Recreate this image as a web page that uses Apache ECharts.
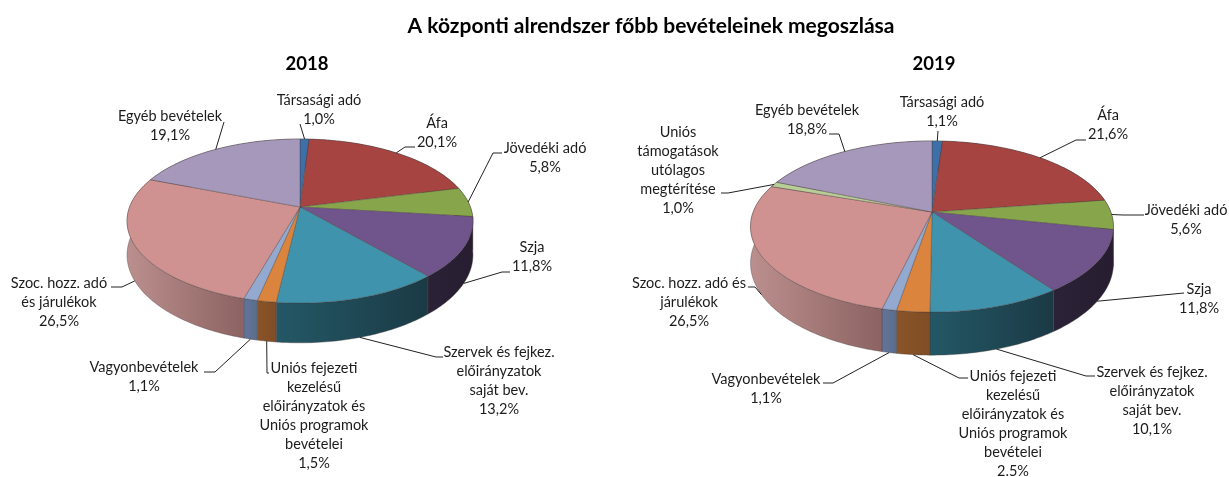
<!DOCTYPE html>
<html>
<head>
<meta charset="utf-8">
<style>
html, body { margin: 0; padding: 0; background: #fff; }
#main { width: 1229px; height: 477px; }
</style>
<script src="https://cdn.jsdelivr.net/npm/echarts@6/dist/echarts.min.js"></script>
</head>
<body>
<div id="main"></div>
<script>
// chart values
var names2018 = ['Társasági adó', 'Áfa', 'Jövedéki adó', 'Szja', 'Szervek és fejkez.\nelőirányzatok\nsaját bev.', 'Uniós fejezeti\nkezelésű\nelőirányzatok és\nUniós programok\nbevételei', 'Vagyonbevételek', 'Szoc. hozz. adó\nés járulékok', 'Egyéb bevételek'];
var values2018 = [1.0, 20.1, 5.8, 11.8, 13.2, 1.5, 1.1, 26.5, 19.1];
var percents2018 = ['1,0%', '20,1%', '5,8%', '11,8%', '13,2%', '1,5%', '1,1%', '26,5%', '19,1%'];
var names2019 = ['Társasági adó', 'Áfa', 'Jövedéki adó', 'Szja', 'Szervek és fejkez.\nelőirányzatok\nsaját bev.', 'Uniós fejezeti\nkezelésű\nelőirányzatok és\nUniós programok\nbevételei', 'Vagyonbevételek', 'Szoc. hozz. adó és\njárulékok', 'Uniós\ntámogatások\nutólagos\nmegtérítése', 'Egyéb bevételek'];
var values2019 = [1.1, 21.6, 5.6, 11.8, 10.1, 2.5, 1.1, 26.5, 1.0, 18.8];
var percents2019 = ['1,1%', '21,6%', '5,6%', '11,8%', '10,1%', '2.5%', '1,1%', '26,5%', '1,0%', '18,8%'];

// slice colours: top face, wall left, wall right
var topColors2018 = ['#3d6fa8', '#a64442', '#87a54b', '#70558c', '#3f93ad', '#db843d', '#93a9cf', '#d09290', '#a598ba'];
var wallLeft2018 = ['#2c5078', '#77302f', '#617636', '#2c2238', '#245866', '#8a5428', '#62759a', '#bb8f8d', '#766c85'];
var wallRight2018 = ['#2c5078', '#77302f', '#617636', '#261d30', '#1a3a45', '#7f4d25', '#5b6d8c', '#8c6362', '#766c85'];
var topColors2019 = ['#3d6fa8', '#a64442', '#87a54b', '#70558c', '#3f93ad', '#db843d', '#93a9cf', '#d09290', '#b9cd96', '#a598ba'];
var wallLeft2019 = ['#2c5078', '#77302f', '#617636', '#2c2238', '#245866', '#8a5428', '#62759a', '#bb8f8d', '#84936b', '#766c85'];
var wallRight2019 = ['#2c5078', '#77302f', '#617636', '#261d30', '#1a3a45', '#7f4d25', '#5b6d8c', '#8c6362', '#84936b', '#766c85'];

// pie geometry: hub, radii, perspective, wall depth
var pie2018 = { cx: 300, cy: 207, rx: 170.4, ry: 79.6, p: 0.171, depth: 33 };
var pie2019 = { cx: 932, cy: 212, rx: 178.8, ry: 83.1, p: 0.17, depth: 35.7 };

// label placement: centre x, y of first line
var labelPos2018 = [[319, 100], [437, 123], [545, 148], [532, 247], [499, 352], [314, 368], [144, 367], [59, 283], [170, 116]];
var labelPos2019 = [[942, 102], [1108, 115], [1186, 210], [1199, 289], [1152, 372], [1013, 376], [766, 379], [689, 283], [678, 132], [807, 110]];

// leader lines after the point on the pie edge
var leader2018 = [[[300, 124]], [[405, 147], [415, 147]], [[493, 153], [502, 153]], [[502, 272], [510, 272]], [[436, 357], [443, 357]], [[267, 373], [269, 373]], [[215, 372], [204, 372]], [[122, 287], [111, 287]], [[224, 122]]];
var leader2019 = [[[938, 131]], [[1076, 140], [1086, 140]], [[1123, 215], [1144, 215]], [[1184, 293]], [[1086, 376], [1095, 376]], [[959, 378], [968, 378]], [[833, 383], [823, 383]], [[755, 287], [748, 287]], [[728, 193], [721, 193]], [[839, 134], [829, 134]]];

var fontName = 'Lato, "Open Sans", sans-serif';

function project(pie, angle) {
    var u = Math.sin(angle), v = -Math.cos(angle);
    var d = 1 - pie.p * v;
    return { x: pie.cx + pie.rx * u / d, y: pie.cy + pie.ry * v / d, wall: pie.depth / d, v: v };
}

function sliceAngles(values) {
    var sum = values.reduce(function (a, b) { return a + b; }, 0);
    var run = 0;
    return values.map(function (v) {
        var a = run / sum * Math.PI * 2;
        run += v;
        return [a, run / sum * Math.PI * 2];
    });
}

function edgePoints(pie, a0, a1) {
    var n = Math.max(2, Math.ceil((a1 - a0) / (Math.PI / 180)));
    var pts = [];
    for (var i = 0; i <= n; i++) {
        pts.push(project(pie, a0 + (a1 - a0) * i / n));
    }
    return pts;
}

function makeSeries(pie, names, values, percents, topColors, wallLeft, wallRight, labelPos, leader) {
    var angles = sliceAngles(values);
    var data = values.map(function (v, i) { return [i, v]; });
    var edge = 'rgba(70,60,60,0.55)';

    var walls = {
        type: 'custom', coordinateSystem: 'none', silent: true, z: 1, data: data,
        renderItem: function (params, api) {
            var i = api.value(0);
            var pts = edgePoints(pie, angles[i][0], angles[i][1]);
            var poly = pts.map(function (q) { return [q.x, q.y]; });
            for (var k = pts.length - 1; k >= 0; k--) {
                poly.push([pts[k].x, pts[k].y + pts[k].wall]);
            }
            return {
                type: 'polygon',
                shape: { points: poly },
                style: {
                    fill: new echarts.graphic.LinearGradient(0, 0, 1, 0, [
                        { offset: 0, color: wallLeft[i] },
                        { offset: 1, color: wallRight[i] }
                    ]),
                    stroke: edge, lineWidth: 0.7
                }
            };
        }
    };

    var tops = {
        type: 'custom', coordinateSystem: 'none', silent: true, z: 2, data: data,
        renderItem: function (params, api) {
            var i = api.value(0);
            var poly = [[pie.cx, pie.cy]].concat(edgePoints(pie, angles[i][0], angles[i][1]).map(function (q) {
                return [q.x, q.y];
            }));
            return {
                type: 'polygon',
                shape: { points: poly },
                style: { fill: topColors[i], stroke: edge, lineWidth: 0.7 }
            };
        }
    };

    var labels = {
        type: 'custom', coordinateSystem: 'none', silent: true, z: 3, data: data,
        renderItem: function (params, api) {
            var i = api.value(0);
            var mid = project(pie, (angles[i][0] + angles[i][1]) / 2);
            var start = [mid.x, mid.v > 0.2 ? mid.y + mid.wall : mid.y];
            return {
                type: 'group',
                children: [{
                    type: 'polyline',
                    shape: { points: [start].concat(leader[i]) },
                    style: { stroke: '#222', lineWidth: 1, fill: null }
                }, {
                    type: 'text',
                    style: {
                        text: names[i] + '\n' + percents[i],
                        x: labelPos[i][0], y: labelPos[i][1] - 9.5,
                        align: 'center', verticalAlign: 'top',
                        fill: '#1c1c1c', fontFamily: fontName, fontSize: 14.5, lineHeight: 19
                    }
                }]
            };
        }
    };

    return [walls, tops, labels];
}

var myChart = echarts.init(document.getElementById('main'), null, { renderer: 'canvas' });
var option = {
    animation: false,
    backgroundColor: '#fff',
    title: [
        { text: 'A központi alrendszer főbb bevételeinek megoszlása', left: 646, top: 11, textAlign: 'center', textStyle: { fontFamily: fontName, fontSize: 21, fontWeight: 'bold', color: '#000' } },
        { text: '2018', left: 302, top: 50, textAlign: 'center', textStyle: { fontFamily: fontName, fontSize: 18.5, fontWeight: 'bold', color: '#000' } },
        { text: '2019', left: 929, top: 50, textAlign: 'center', textStyle: { fontFamily: fontName, fontSize: 18.5, fontWeight: 'bold', color: '#000' } }
    ],
    series: makeSeries(pie2018, names2018, values2018, percents2018, topColors2018, wallLeft2018, wallRight2018, labelPos2018, leader2018)
        .concat(makeSeries(pie2019, names2019, values2019, percents2019, topColors2019, wallLeft2019, wallRight2019, labelPos2019, leader2019))
};
myChart.setOption(option);
</script>
</body>
</html>
